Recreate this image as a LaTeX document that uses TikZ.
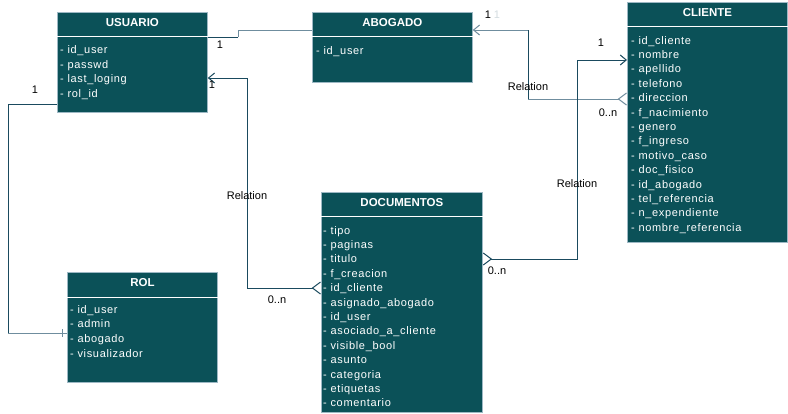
\documentclass[tikz,border=0pt]{standalone}
\usepackage{fontspec}
\setmainfont{Liberation Sans}
\newfontfamily\attrfont[LetterSpace=6]{Liberation Sans}
\usetikzlibrary{arrows.meta,calc}
\definecolor{boxfill}{HTML}{0B5158}
\definecolor{boxborder}{HTML}{9DB8C4}
\definecolor{linedark}{HTML}{1A4A5E}
\definecolor{linelight}{HTML}{6F8D9E}
\definecolor{faint}{HTML}{D3DCE0}
\begin{document}
\begin{tikzpicture}[x=1pt,y=-1pt,
 cls/.style={draw=boxborder, fill=boxfill, anchor=north west, inner sep=0pt, line width=0.8pt},
 hdr/.style={text=white, font=\bfseries\fontsize{11.5}{13}\selectfont, inner sep=0pt},
 attr/.style={text=white, font=\attrfont\fontsize{11}{13}\selectfont, anchor=base west, inner sep=0pt},
 lbl/.style={text=black, font=\fontsize{11}{13}\selectfont, inner sep=0pt},
 sepline/.style={draw=white, line width=0.8pt},
 conn/.style={draw=linedark, line width=1pt},
 connl/.style={draw=linelight, line width=1pt},
 arrowin/.style={-{Straight Barb[length=6pt,width=10pt,line width=1pt]}},
 crowend/.style={-{Straight Barb[reversed,length=8pt,width=12pt,line width=1pt]}},
 crowboth/.style={{Straight Barb[reversed,length=8pt,width=12pt,line width=1pt]}-{Straight Barb[length=6pt,width=10pt,line width=1pt]}},
]
\useasboundingbox (0,0) rectangle (788,413);
\fill[white] (0,0) rectangle (788,413);

% boxes
\node[cls, minimum width=150pt, minimum height=100pt] (usuario) at (57,12) {};
\node[cls, minimum width=160pt, minimum height=70pt] (abogado) at (312,12) {};
\node[cls, minimum width=160pt, minimum height=240pt] (cliente) at (627,2) {};
\node[cls, minimum width=161pt, minimum height=220pt] (documentos) at (321,192) {};
\node[cls, minimum width=150pt, minimum height=110pt] (rol) at (67,272) {};

% headers
\node[hdr] (usuarioH) at ($(usuario.north)+(0,11)$) {USUARIO};
\node[hdr] (abogadoH) at ($(abogado.north)+(0,11)$) {ABOGADO};
\node[hdr] (clienteH) at ($(cliente.north)+(0,11)$) {CLIENTE};
\node[hdr] (documentosH) at ($(documentos.north)+(0,10.5)$) {DOCUMENTOS};
\node[hdr] (rolH) at ($(rol.north)+(0,11)$) {ROL};

\draw[sepline] ($(usuario.north west)+(0,24)$) -- ($(usuario.north east)+(0,24)$);
\draw[sepline] ($(abogado.north west)+(0,24)$) -- ($(abogado.north east)+(0,24)$);
\draw[sepline] ($(cliente.north west)+(0,24)$) -- ($(cliente.north east)+(0,24)$);
\draw[sepline] ($(documentos.north west)+(0,24)$) -- ($(documentos.north east)+(0,24)$);
\draw[sepline] ($(rol.north west)+(0,25)$) -- ($(rol.north east)+(0,25)$);

% attributes
\foreach \t [count=\i] in {id\_user, passwd, last\_loging, rol\_id}
  \node[attr] (usuario-a\i) at ($(usuario.north west)+(3,41.5+14.7*\i-14.7)$) {- \t};
\foreach \t [count=\i] in {id\_user}
  \node[attr] (abogado-a\i) at ($(abogado.north west)+(4,42+14.7*\i-14.7)$) {- \t};
\foreach \t [count=\i] in {id\_cliente, nombre, apellido, telefono, direccion, f\_nacimiento, genero, f\_ingreso, motivo\_caso, doc\_fisico, id\_abogado, tel\_referencia, n\_expendiente, nombre\_referencia}
  \node[attr] (cliente-a\i) at ($(cliente.north west)+(4,42+14.4*\i-14.4)$) {- \t};
\foreach \t [count=\i] in {tipo, paginas, titulo, f\_creacion, id\_cliente, asignado\_abogado, id\_user, asociado\_a\_cliente, visible\_bool, asunto, categoria, etiquetas, comentario}
  \node[attr] (documentos-a\i) at ($(documentos.north west)+(2,42+14.4*\i-14.4)$) {- \t};
\foreach \t [count=\i] in {id\_user, admin, abogado, visualizador}
  \node[attr] (rol-a\i) at ($(rol.north west)+(3,41+14.7*\i-14.7)$) {- \t};

% connector coordinates
\coordinate (u1) at ($(usuario.north east)+(0,25)$);
\coordinate (ab1) at ($(abogado.north west)+(0,18)$);
\coordinate (k1) at (238,37);
\coordinate (ab2) at ($(abogado.north east)+(0,18)$);
\coordinate (cl1) at ($(cliente.north west)+(0,97)$);
\coordinate (k2) at (528,99);
\coordinate (k3) at (528,30);
\coordinate (d1) at ($(documentos.north east)+(0,67)$);
\coordinate (cl2) at ($(cliente.north west)+(0,58)$);
\coordinate (k4) at (577,60);
\coordinate (d2) at ($(documentos.north west)+(0,96)$);
\coordinate (u2) at ($(usuario.north east)+(0,66)$);
\coordinate (k5) at (247,78);
\coordinate (u3) at ($(usuario.north west)+(0,92)$);
\coordinate (r1) at ($(rol.north west)+(0,61)$);
\coordinate (k6) at (8,333);

% USUARIO - ABOGADO
\draw[conn] (u1) -- (k1);
\draw[connl] (k1) |- (ab1);
% ABOGADO - CLIENTE
\draw[connl, crowend] (k2) -- (cl1);
\draw[conn] (k2) -- (k3);
\draw[connl, arrowin] (k3) -- (ab2);
% DOCUMENTOS - CLIENTE
\draw[conn, crowboth] (d1) -| (k4) -- (cl2);
% DOCUMENTOS - USUARIO
\draw[conn, crowboth] (d2) -| (k5) -- (u2);
% USUARIO - ROL
\draw[conn] (u3) -| (k6);
\draw[connl] (k6) -- (r1);
\draw[connl] ($(r1)+(-5,-4)$) -- ($(r1)+(-5,4)$);

% labels
\node[lbl] (l1) at (220,45) {1};
\node[lbl] (l2) at (488,15) {1};
\node[lbl, text=faint] (l2b) at (497,15) {1};
\node[lbl] (l3) at (528,87) {Relation};
\node[lbl] (l4) at (608,113) {0..n};
\node[lbl] (l5) at (601,43) {1};
\node[lbl] (l6) at (577,184) {Relation};
\node[lbl] (l7) at (497,271) {0..n};
\node[lbl] (l8) at (212,85) {1};
\node[lbl] (l9) at (247,196) {Relation};
\node[lbl] (l10) at (277,300) {0..n};
\node[lbl] (l11) at (35,90) {1};
\end{tikzpicture}
\end{document}
